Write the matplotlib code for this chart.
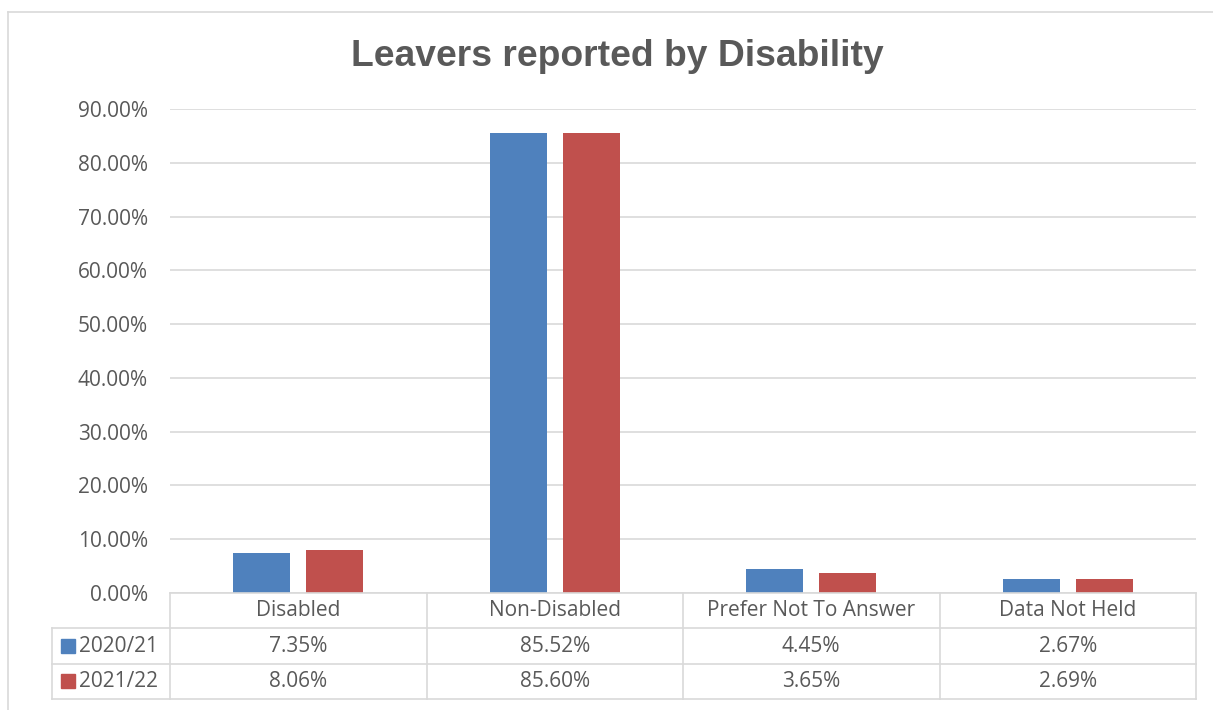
import matplotlib
matplotlib.use("Agg")
import matplotlib.pyplot as plt
from matplotlib.patches import Rectangle
from matplotlib.lines import Line2D

categories = ["Disabled", "Non-Disabled", "Prefer Not To Answer", "Data Not Held"]
series_names = ["2020/21", "2021/22"]
values_2021 = [7.35, 85.52, 4.45, 2.67]
values_2122 = [8.06, 85.60, 3.65, 2.69]
yticks = [0, 10, 20, 30, 40, 50, 60, 70, 80, 90]

BLUE = "#4F81BD"
RED = "#C0504D"
TXT = "#595959"
GRID = "#D9D9D9"

W, H = 1213, 710
fig = plt.figure(figsize=(W / 100, H / 100), dpi=100)

def box(x0, y0, x1, y1):
    # pixel box (top-left origin) -> figure fraction rect
    return [x0 / W, 1 - y1 / H, (x1 - x0) / W, (y1 - y0) / H]

# chart outer border
fig.add_artist(Line2D([8 / W, 8 / W], [0, 1 - 12 / H], color=GRID, lw=1.2))
fig.add_artist(Line2D([8 / W, 1], [1 - 12 / H, 1 - 12 / H], color=GRID, lw=1.2))

fig.text(617 / W, 1 - 56 / H, "Leavers reported by Disability", ha="center", va="center",
         fontsize=26.8, fontweight="bold", color=TXT, family="Liberation Sans")

ax = fig.add_axes(box(170, 109, 1196, 593))
x = range(len(categories))
bw, off = 0.222, 0.142
ax.bar([i - off for i in x], values_2021, width=bw, color=BLUE, zorder=3)
ax.bar([i + off for i in x], values_2122, width=bw, color=RED, zorder=3)
ax.set_xlim(-0.5, len(categories) - 0.5)
ax.set_ylim(0, 90)
ax.set_yticks(yticks)
ax.set_yticklabels([f"{v:.2f}%" for v in yticks], fontsize=15, color=TXT, family="Open Sans")
ax.tick_params(axis="y", length=0, pad=16)
ax.set_xticks([])
ax.grid(axis="y", color=GRID, lw=1.2, zorder=0)
for s in ax.spines.values():
    s.set_visible(False)

# data table below the plot
tx = fig.add_axes(box(52, 593, 1196, 699))
leg_w = 118 / 256.5
tx.set_xlim(-0.5 - leg_w, len(categories) - 0.5)
tx.set_ylim(3, 0)
tx.axis("off")
lk = dict(color=GRID, lw=1.2, clip_on=False)
tx.plot([-0.5, len(categories) - 0.5], [0, 0], **lk)
for yy in (1, 2, 3):
    tx.plot([-0.5 - leg_w, len(categories) - 0.5], [yy, yy], **lk)
tx.plot([-0.5 - leg_w] * 2, [1, 3], **lk)
for i in range(len(categories) + 1):
    tx.plot([i - 0.5] * 2, [0, 3], **lk)
fs = 15
for i, c in enumerate(categories):
    tx.text(i, 0.5, c, ha="center", va="center", fontsize=fs, color=TXT, family="Open Sans")
    tx.text(i, 1.5, f"{values_2021[i]:.2f}%", ha="center", va="center", fontsize=fs, color=TXT, family="Open Sans")
    tx.text(i, 2.5, f"{values_2122[i]:.2f}%", ha="center", va="center", fontsize=fs, color=TXT, family="Open Sans")
for r, (name, col) in enumerate(zip(series_names, [BLUE, RED])):
    tx.add_patch(Rectangle((-0.5 - leg_w + 0.035, r + 1.3), 0.053, 0.4, color=col, clip_on=False))
    tx.text(-0.5 - leg_w + 0.105, r + 1.5, name, ha="left", va="center", fontsize=fs, color=TXT, family="Open Sans")

fig.savefig("out.png", dpi=100)
